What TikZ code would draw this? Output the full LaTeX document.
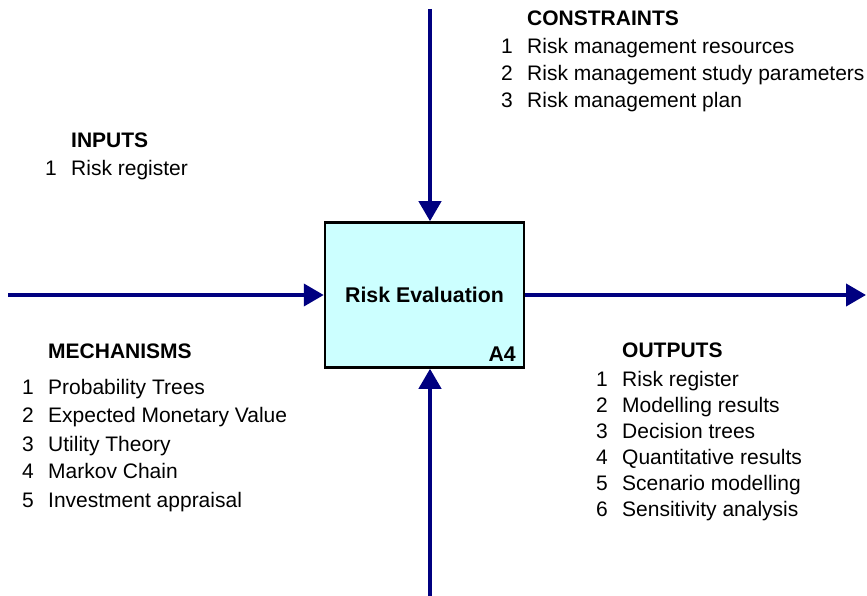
\documentclass[tikz,border=0pt]{standalone}
\usepackage{fontspec}
\setmainfont{Liberation Sans}
\usetikzlibrary{arrows.meta}
\definecolor{flowblue}{HTML}{000080}
\definecolor{boxcyan}{HTML}{CCFFFF}

\begin{document}
\begin{tikzpicture}[x=1pt, y=-1pt,
  font=\fontsize{21}{26}\selectfont,
  flow/.style={draw=flowblue, line width=4pt, -{Triangle[length=20pt, width=22pt]}},
  head/.style={anchor=base west, inner sep=0pt, font=\fontsize{21}{26}\selectfont\bfseries},
  item/.style={anchor=base west, inner sep=0pt}]
\useasboundingbox (0,0) rectangle (867,596);

\node[draw, line width=2.5pt, fill=boxcyan, minimum width=199pt, minimum height=145pt, font=\fontsize{21.3}{26}\selectfont\bfseries] at (424.5,295) (eval) {Risk Evaluation};
\node[anchor=base east, inner sep=0pt, font=\fontsize{21.3}{26}\selectfont\bfseries] at (516,361) (evalid) {A4};

\coordinate (insrc) at (8,295);
\coordinate (outend) at (866,295);
\coordinate (ctrlsrc) at (430,9);
\coordinate (mechsrc) at (430,596);

\draw[flow] (insrc) -- (insrc -| eval.west);
\draw[flow] (eval.east) -- (outend);
\draw[flow] (ctrlsrc) -- (ctrlsrc |- eval.north);
\draw[flow] (mechsrc) -- (mechsrc |- eval.south);

% constraints
\node[head] at (527,26) (constraints) {CONSTRAINTS};
\foreach \y/\n/\t in {53.5/1/Risk management resources, 80.5/2/Risk management study parameters, 107.5/3/Risk management plan} {
  \node[item] at (501,\y) (ctrlnum\n) {\n};
  \node[item] at (527,\y) (ctrl\n) {\t};
}

% inputs
\node[head] at (71,147.5) (inputs) {INPUTS};
\node[item] at (45,176) (innum1) {1};
\node[item] at (71,176) (in1) {Risk register};

% mechanisms
\node[head] at (48,358) (mechanisms) {MECHANISMS};
\foreach \y/\n/\t in {394/1/Probability Trees, 422/2/Expected Monetary Value, 451/3/Utility Theory, 478.5/4/Markov Chain, 507/5/Investment appraisal} {
  \node[item] at (22,\y) (mechnum\n) {\n};
  \node[item] at (48,\y) (mech\n) {\t};
}

% outputs
\node[head] at (622,357) (outputs) {OUTPUTS};
\foreach \y/\n/\t in {386/1/Risk register, 412/2/Modelling results, 438/3/Decision trees, 464/4/Quantitative results, 490/5/Scenario modelling, 516/6/Sensitivity analysis} {
  \node[item] at (596,\y) (outnum\n) {\n};
  \node[item] at (622,\y) (out\n) {\t};
}
\end{tikzpicture}
\end{document}
